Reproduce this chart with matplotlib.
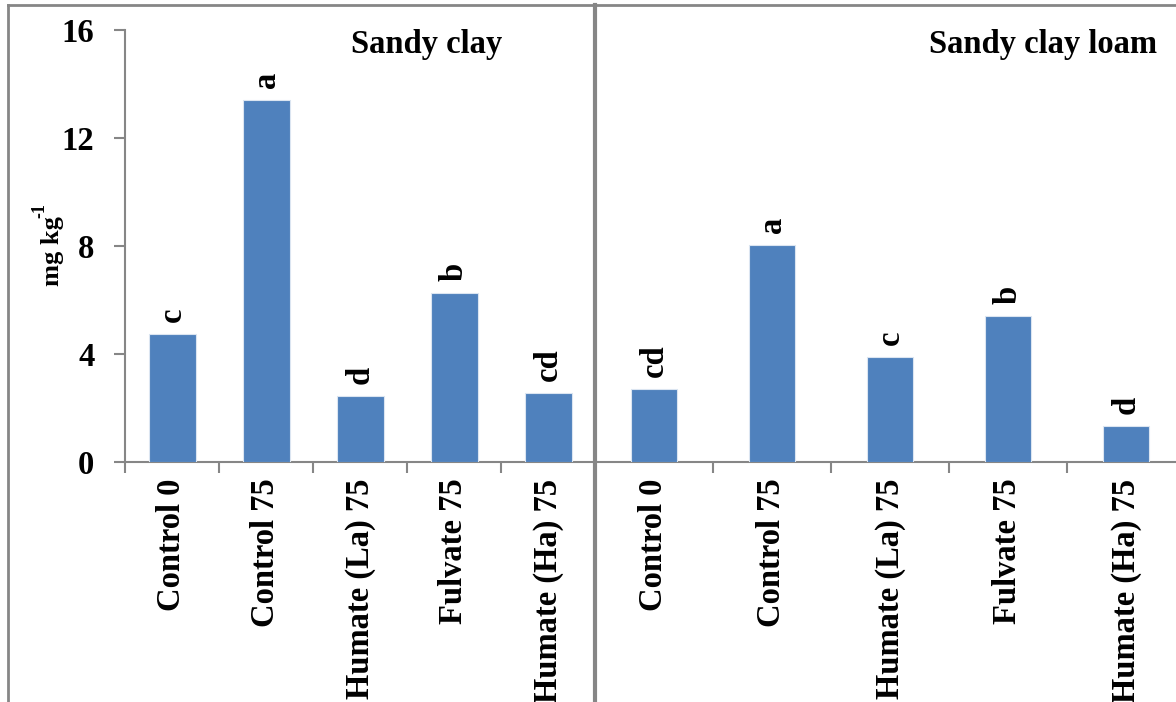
import matplotlib
matplotlib.use("Agg")
import matplotlib.pyplot as plt
import numpy as np
from matplotlib.lines import Line2D

categories = ["Control 0", "Control 75", "Humate (La) 75", "Fulvate 75", "Humate (Ha) 75"]
sandy_clay = [4.74, 13.4, 2.45, 6.26, 2.56]
sandy_clay_letters = ["c", "a", "d", "b", "cd"]
sandy_clay_loam = [2.7, 8.03, 3.9, 5.4, 1.33]
sandy_clay_loam_letters = ["cd", "a", "c", "b", "d"]
yticks = [0, 4, 8, 12, 16]

plt.rcParams['font.family'] = ['Liberation Serif', 'DejaVu Serif']
plt.rcParams['font.weight'] = 'bold'

W, H = 1176, 702
fig = plt.figure(figsize=(W / 100, H / 100), dpi=100)

bar_col = "#4F81BD"
grey = "#868686"
fs = 23.5


def panel(rect, vals, letters, title, title_x, width, show_y):
    ax = fig.add_axes(rect)
    x = np.arange(len(vals))
    ax.bar(x, vals, width=width, color=bar_col, edgecolor="#dbe5f1", linewidth=0.8, zorder=3)
    for xi, v, t in zip(x, vals, letters):
        ax.text(xi, v + 0.45, t, rotation=90, ha="center", va="bottom",
                fontsize=fs, fontweight="bold")
    ax.set_xlim(-0.5, len(vals) - 0.5)
    ax.set_ylim(0, 16)
    ax.set_xticks(x)
    ax.set_xticklabels(categories, rotation=90, fontsize=fs, fontweight="bold")
    ax.set_xticks(np.arange(-0.5, len(vals), 1), minor=True)
    ax.tick_params(axis="x", which="major", length=0, pad=12)
    ax.tick_params(axis="x", which="minor", length=8, width=1.5, color=grey)
    for s in ["top", "right"]:
        ax.spines[s].set_visible(False)
    ax.spines["bottom"].set_color(grey)
    ax.spines["bottom"].set_linewidth(1.5)
    if show_y:
        ax.set_yticks(yticks)
        ax.set_yticklabels([str(v) for v in yticks], fontsize=fs, fontweight="bold")
        ax.tick_params(axis="y", length=8, width=1.5, color=grey, pad=14)
        ax.spines["left"].set_color(grey)
        ax.spines["left"].set_linewidth(1.5)
    else:
        ax.set_yticks([])
        ax.spines["left"].set_visible(False)
    fig.text(title_x / W, 1 - 44 / H, title, ha="center", va="center",
             fontsize=fs, fontweight="bold")
    return ax


bottom = 1 - 462 / H
height = (462 - 30) / H
ax1 = panel([125 / W, bottom, 470 / W, height], sandy_clay, sandy_clay_letters,
            "Sandy clay", 427, 0.5, True)
ax2 = panel([595 / W, bottom, 590 / W, height], sandy_clay_loam, sandy_clay_loam_letters,
            "Sandy clay loam", 1043, 0.39, False)

# y label: "mg kg" with a raised "-1"
fig.text(52 / W, 1 - 286 / H, "mg kg", rotation=90, ha="center", va="bottom",
         fontsize=19, fontweight="bold")
fig.text(40 / W, 1 - 218 / H, "-1", rotation=90, ha="center", va="bottom",
         fontsize=13, fontweight="bold")

# frames of the two chart panels
fig.add_artist(Line2D([8 / W, 8 / W], [0, 1 - 5 / H], color=grey, lw=2))
fig.add_artist(Line2D([8 / W, 1], [1 - 5 / H, 1 - 5 / H], color=grey, lw=2))
fig.add_artist(Line2D([595 / W, 595 / W], [0, 1 - 5 / H], color=grey, lw=3))

fig.savefig("out.png", dpi=100)
